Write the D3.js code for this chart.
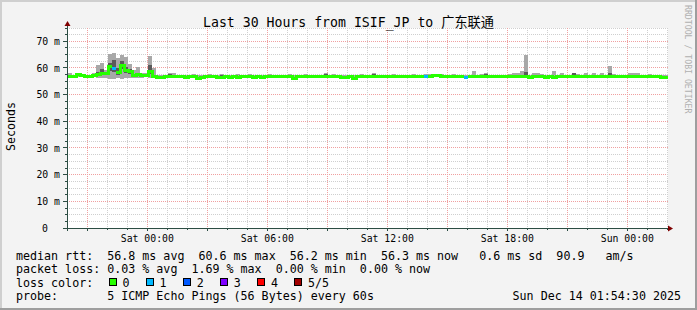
<!DOCTYPE html>
<html><head><meta charset="utf-8">
<script src="https://cdn.jsdelivr.net/npm/d3@7"></script>
<style>
body{margin:0;background:#fff}
svg{display:block}
text{font-family:"DejaVu Sans Mono",monospace;fill:#000;white-space:pre}
</style>
</head><body><svg id="c" width="697" height="310"></svg>
<script>
// ---------- data ----------
const titleText = "Last 30 Hours from ISIF_JP to 广东联通";
const yAxisTitle = "Seconds";
const watermark = "RRDTOOL / TOBI OETIKER";
const startTime = new Date(2025, 11, 12, 20, 2, 0);
const spanHours = 30;
const binMinutes = 12;
const yTicks = [0, 10, 20, 30, 40, 50, 60, 70];
const yTickLabels = ["0", "10 m", "20 m", "30 m", "40 m", "50 m", "60 m", "70 m"];

// median RTT per 12-minute bin (ms)
const median = [
57.0,57.0,57.5,57.2,57.0,57.0,57.2,57.7,58.0,57.8,
60.6,59.8,58.3,60.8,59.1,58.6,57.3,57.5,57.1,57.1,
58.6,56.9,56.3,56.6,56.8,56.8,56.9,56.7,56.8,56.6,
56.8,56.9,56.2,56.5,56.8,56.8,56.7,56.6,56.6,56.8,
56.6,56.8,56.3,56.7,56.8,56.9,56.5,56.8,56.3,56.7,
56.8,56.8,56.9,56.7,56.8,56.8,56.2,56.7,56.8,56.9,
56.8,56.7,56.8,56.8,56.9,56.8,56.7,56.8,56.4,56.6,
56.8,56.2,56.8,56.9,56.8,56.7,56.8,56.8,56.8,56.7,
56.8,56.9,56.8,56.8,56.7,56.8,56.8,56.9,56.8,56.9,
57.0,57.3,57.2,56.9,56.7,56.8,56.8,56.8,56.7,56.4,
56.8,56.8,56.8,56.9,56.8,56.7,56.8,56.8,56.8,56.7,
56.8,56.8,56.8,56.8,56.8,56.3,56.8,56.8,56.9,56.3,
56.8,56.6,56.8,56.8,56.9,56.8,56.7,56.8,56.8,56.9,
56.8,56.8,56.7,56.8,56.8,56.9,56.8,56.8,56.7,56.8,
56.8,56.9,56.8,56.7,56.8,56.8,56.8,56.9,56.6,56.4
];
// lost pings (of 5) per bin
const loss = [
0,0,0,0,0,0,0,0,0,0, 0,1,0,0,0,0,0,0,0,0, 0,0,0,0,0,0,0,0,0,0,
0,0,0,0,0,0,0,0,0,0, 0,0,0,0,0,0,0,0,0,0, 0,0,0,0,0,0,0,0,0,0,
0,0,0,0,0,0,0,0,0,0, 0,0,0,0,0,0,0,0,0,0, 0,0,0,0,0,0,0,0,0,1,
0,0,0,0,0,0,0,0,0,1, 0,0,0,0,0,0,0,0,0,0, 0,0,0,0,0,0,0,0,0,0,
0,0,0,0,0,0,0,0,0,0, 0,0,0,0,0,0,0,0,0,0, 0,0,0,0,0,0,0,0,0,0
];
// smoke: slowest ping per bin (ms)
const smokeHi = [
58.2,57.5,57.8,57.6,57.5,57.4,58.0,61.3,62.0,59.3,
65.3,65.5,63.8,64.8,64.3,61.6,59.3,60.3,58.3,58.3,
64.5,60.1,57.3,57.4,57.5,58.0,58.0,57.5,57.4,57.5,
57.5,57.6,57.4,57.5,57.5,57.6,57.5,57.4,57.6,57.5,
57.4,57.5,57.6,57.5,57.5,57.6,57.5,57.4,57.5,57.5,
57.6,57.5,57.4,57.5,57.5,57.6,57.3,57.5,57.5,57.6,
57.5,57.4,57.5,57.5,58.0,57.5,57.6,57.5,57.5,57.4,
57.5,57.3,57.5,57.6,57.5,57.4,58.3,57.5,57.5,57.4,
57.5,57.6,57.5,57.5,57.4,57.5,57.6,57.5,57.5,57.6,
57.8,57.8,57.8,57.8,57.4,57.5,57.6,57.5,57.5,57.5,
57.5,59.0,57.5,57.6,58.3,57.5,57.5,57.4,57.5,57.5,
57.6,58.3,58.3,58.8,64.8,57.3,58.0,58.3,57.6,57.4,
57.5,58.8,57.5,58.0,57.5,57.4,57.5,57.6,57.5,58.0,
57.5,58.0,57.5,58.0,57.5,60.6,57.6,57.5,57.4,57.5,
58.3,58.3,58.3,57.5,57.5,57.6,57.5,57.5,57.4,57.3
];
// smoke: fastest ping per bin (ms)
const smokeLo = [
56.6,56.6,56.6,56.6,56.6,56.6,56.6,56.2,56.2,56.3,
56.0,56.0,56.1,56.0,56.1,56.2,56.4,56.3,56.4,56.5,
56.2,56.3,56.0,56.4,56.4,56.4,56.4,56.4,56.4,56.4,
56.4,56.4,56.0,56.4,56.4,56.4,56.4,56.4,56.4,56.4,
56.4,56.4,56.0,56.4,56.4,56.4,56.4,56.4,56.0,56.4,
56.4,56.4,56.4,56.4,56.4,56.4,56.0,56.4,56.4,56.4,
56.4,56.4,56.4,56.4,56.4,56.4,56.4,56.4,56.2,56.4,
56.4,56.0,56.4,56.4,56.4,56.4,56.4,56.4,56.4,56.4,
56.4,56.4,56.4,56.4,56.4,56.4,56.4,56.4,56.4,56.4,
56.5,56.5,56.5,56.4,56.4,56.4,56.4,56.4,56.4,56.2,
56.4,56.4,56.4,56.4,56.4,56.4,56.4,56.4,56.4,56.4,
56.4,56.4,56.4,56.4,56.4,56.0,56.4,56.4,56.4,56.0,
56.4,56.3,56.4,56.4,56.4,56.4,56.4,56.4,56.4,56.4,
56.4,56.4,56.4,56.4,56.4,56.4,56.4,56.4,56.4,56.4,
56.4,56.4,56.4,56.4,56.4,56.4,56.4,56.4,56.3,56.1
];
// inner smoke band (2nd..4th ping), 0 = none
const darkLo = [
0,0,0,0,0,0,57.2,57.3,57.5,57.3,
59.0,58.5,57.5,59.5,58.0,57.8,57.0,57.0,0,0,
57.8,56.5,0,0,0,57.2,0,0,0,0,
0,0,0,0,0,0,0,0,57.1,0,
0,0,0,0,0,0,0,0,0,0,
0,0,0,0,0,0,0,0,0,0,
0,0,0,0,57.2,0,0,0,0,0,
0,0,0,0,0,0,57.2,0,0,0,
0,0,0,0,0,0,0,0,0,0,
0,0,0,0,0,0,0,0,0,0,
0,0,0,0,57.2,0,0,0,0,0,
0,0,0,0,57.5,0,0,0,0,0,
0,0,0,0,0,0,57.2,0,0,0,
0,0,0,0,0,57.3,0,0,0,0,
0,0,0,0,0,0,0,0,0,0
];
const darkHi = [
0,0,0,0,0,0,57.6,58.5,59.5,58.5,
62.0,63.0,60.0,62.5,60.5,59.5,57.8,58.0,0,0,
61.0,57.5,0,0,0,57.8,0,0,0,0,
0,0,0,0,0,0,0,0,57.5,0,
0,0,0,0,0,0,0,0,0,0,
0,0,0,0,0,0,0,0,0,0,
0,0,0,0,57.6,0,0,0,0,0,
0,0,0,0,0,0,57.6,0,0,0,
0,0,0,0,0,0,0,0,0,0,
0,0,0,0,0,0,0,0,0,0,
0,0,0,0,57.6,0,0,0,0,0,
0,0,0,0,58.5,0,0,0,0,0,
0,0,0,0,0,0,58.0,0,0,0,
0,0,0,0,0,58.2,0,0,0,0,
0,0,0,0,0,0,0,0,0,0
];
const lossColors = ["#26ff00", "#00b8ff", "#0059ff", "#7e00ff", "#ff0000", "#a10000"];
const lossLabels = ["0", "1", "2", "3", "4", "5/5"];
const legendLine1 = "median rtt:  56.8 ms avg  60.6 ms max  56.2 ms min  56.3 ms now   0.6 ms sd  90.9   am/s";
const legendLine2 = "packet loss: 0.03 % avg  1.69 % max  0.00 % min  0.00 % now";
const legendLine3 = "loss color:";
const legendLine4 = "probe:       5 ICMP Echo Pings (56 Bytes) every 60s";
const timestampText = "Sun Dec 14 01:54:30 2025";

// ---------- drawing ----------
const W = 697, H = 310;
const svg = d3.select("#c");
const L = 67, R = 668, T = 28, B = 228;

svg.append("rect").attr("width", W).attr("height", H).attr("fill", "#f3f3f3");
// 3D frame
svg.append("path").attr("d", `M0,0H${W}V2H2V${H}H0Z`).attr("fill", "#cfcfcf");
svg.append("path").attr("d", `M${W},0V${H}H0V${H-2}H${W-2}V0Z`).attr("fill", "#9e9e9e");

const endTime = d3.timeHour.offset(startTime, spanHours);
const x = d3.scaleTime().domain([startTime, endTime]).range([68, 668]);
const y = d3.scaleLinear().domain([0, 75]).range([B, T]);

svg.append("rect").attr("x", L).attr("y", T).attr("width", R - L).attr("height", B - T).attr("fill", "#fff");

const grid = svg.append("g").attr("shape-rendering", "crispEdges");
// horizontal grid
d3.range(2.5, 75.01, 2.5).forEach(v => {
  const major = Math.abs(v % 10) < 1e-6;
  const yy = Math.floor(y(v)) + 0.5;
  grid.append("line").attr("x1", L).attr("x2", R).attr("y1", yy).attr("y2", yy)
    .attr("stroke", major ? "#f0a0a0" : "#cfcfcf").attr("stroke-dasharray", "1,1");
  grid.append("line").attr("x1", major ? 63 : 65).attr("x2", L).attr("y1", yy).attr("y2", yy)
    .attr("stroke", "#2c4d43");
});
// vertical grid
const hours = x.ticks(d3.timeHour.every(1));
hours.forEach(t => {
  const major = t.getHours() % 3 === 0;
  const xx = Math.floor(x(t)) + 0.5;
  if (xx <= L || xx >= R) return;
  grid.append("line").attr("x1", xx).attr("x2", xx).attr("y1", T).attr("y2", B)
    .attr("stroke", major ? "#f0a0a0" : "#cfcfcf").attr("stroke-dasharray", "1,1");
  grid.append("line").attr("x1", xx).attr("x2", xx).attr("y1", B).attr("y2", major ? B + 3 : B + 2)
    .attr("stroke", "#2c4d43");
});

// smoke & median
const binTime = i => d3.timeMinute.offset(startTime, i * binMinutes);
const data = median.map((m, i) => ({
  x0: x(binTime(i)), x1: x(binTime(i + 1)),
  med: m, lo: smokeLo[i], hi: smokeHi[i], dlo: darkLo[i], dhi: darkHi[i], loss: loss[i]
}));
const plot = svg.append("g").attr("shape-rendering", "crispEdges");
plot.selectAll(".smoke").data(data).join("rect")
  .attr("x", d => d.x0).attr("width", d => d.x1 - d.x0)
  .attr("y", d => y(d.hi)).attr("height", d => y(d.lo) - y(d.hi))
  .attr("fill", "#a8a8a8");
plot.selectAll(".dark").data(data.filter(d => d.dhi > 0)).join("rect")
  .attr("x", d => d.x0).attr("width", d => d.x1 - d.x0)
  .attr("y", d => y(d.dhi)).attr("height", d => y(d.dlo) - y(d.dhi))
  .attr("fill", "#5a5a5a");
// vertical connectors between median steps
data.forEach((d, i) => {
  if (i === 0) return;
  const p = data[i - 1];
  if (p.loss !== d.loss) return;
  const y1 = Math.min(y(p.med), y(d.med)) - 1.5, y2 = Math.max(y(p.med), y(d.med)) + 1.5;
  plot.append("rect").attr("x", d.x0 - 1.5).attr("width", 3).attr("y", y1).attr("height", y2 - y1)
    .attr("fill", lossColors[d.loss]);
});
plot.selectAll(".med").data(data).join("rect")
  .attr("x", d => d.x0).attr("width", d => d.x1 - d.x0)
  .attr("y", d => y(d.med) - 1.5).attr("height", 3)
  .attr("fill", d => lossColors[d.loss]);

// axes
const ax = svg.append("g").attr("shape-rendering", "crispEdges");
ax.append("line").attr("x1", 63).attr("x2", 670).attr("y1", B + 0.5).attr("y2", B + 0.5).attr("stroke", "#2c4d43");
ax.append("line").attr("x1", L + 0.5).attr("x2", L + 0.5).attr("y1", 25).attr("y2", B + 3).attr("stroke", "#2c4d43");
svg.append("path").attr("d", `M${L + 0.5},21 L${L + 3.5},26 L${L - 2.5},26 Z`).attr("fill", "#7f0000");
svg.append("path").attr("d", `M673,${B + 0.5} L668,${B - 2.5} L668,${B + 3.5} Z`).attr("fill", "#7f0000");

// y tick labels
yTicks.forEach((v, i) => {
  const lab = yTickLabels[i];
  svg.append("text").attr("x", lab === "0" ? 48 : 60).attr("y", y(v) + 3.6)
    .attr("text-anchor", "end").attr("font-size", "9.8px").text(lab);
});
// x tick labels
x.ticks(d3.timeHour.every(6)).forEach(t => {
  svg.append("text").attr("x", x(t)).attr("y", 241.5).attr("text-anchor", "middle")
    .attr("font-size", "9.8px").text(d3.timeFormat("%a %H:%M")(t));
});

// title
svg.append("text").attr("x", 348.5).attr("y", 26.5).attr("text-anchor", "middle")
  .attr("font-size", "13.2px")
  .style("font-family", "'DejaVu Sans Mono','Noto Sans CJK SC',monospace")
  .text(titleText);
// y axis title
svg.append("text").attr("transform", "translate(14.5,126.5) rotate(-90)")
  .attr("text-anchor", "middle").attr("font-size", "11.6px").text(yAxisTitle);
// watermark
svg.append("text").attr("transform", "translate(685,5) rotate(90)")
  .attr("font-size", "8.2px").style("fill", "#b0b0b0").text(watermark);

// legend
const lg = svg.append("g").attr("font-size", "11.67px");
lg.append("text").attr("x", 16).attr("y", 259.5).text(legendLine1);
lg.append("text").attr("x", 16).attr("y", 273).text(legendLine2);
lg.append("text").attr("x", 16).attr("y", 286.5).text(legendLine3);
lossColors.forEach((c, i) => {
  const bx = 108.5 + i * 37.1;
  lg.append("rect").attr("x", Math.round(bx) + 0.5).attr("y", 278.5).attr("width", 7).attr("height", 7)
    .attr("fill", c).attr("stroke", "#000").attr("shape-rendering", "crispEdges");
  lg.append("text").attr("x", bx + 14).attr("y", 286.5).text(lossLabels[i]);
});
lg.append("text").attr("x", 16).attr("y", 300).text(legendLine4);
lg.append("text").attr("x", 681).attr("y", 300).attr("text-anchor", "end").text(timestampText);
</script>
</body></html>
